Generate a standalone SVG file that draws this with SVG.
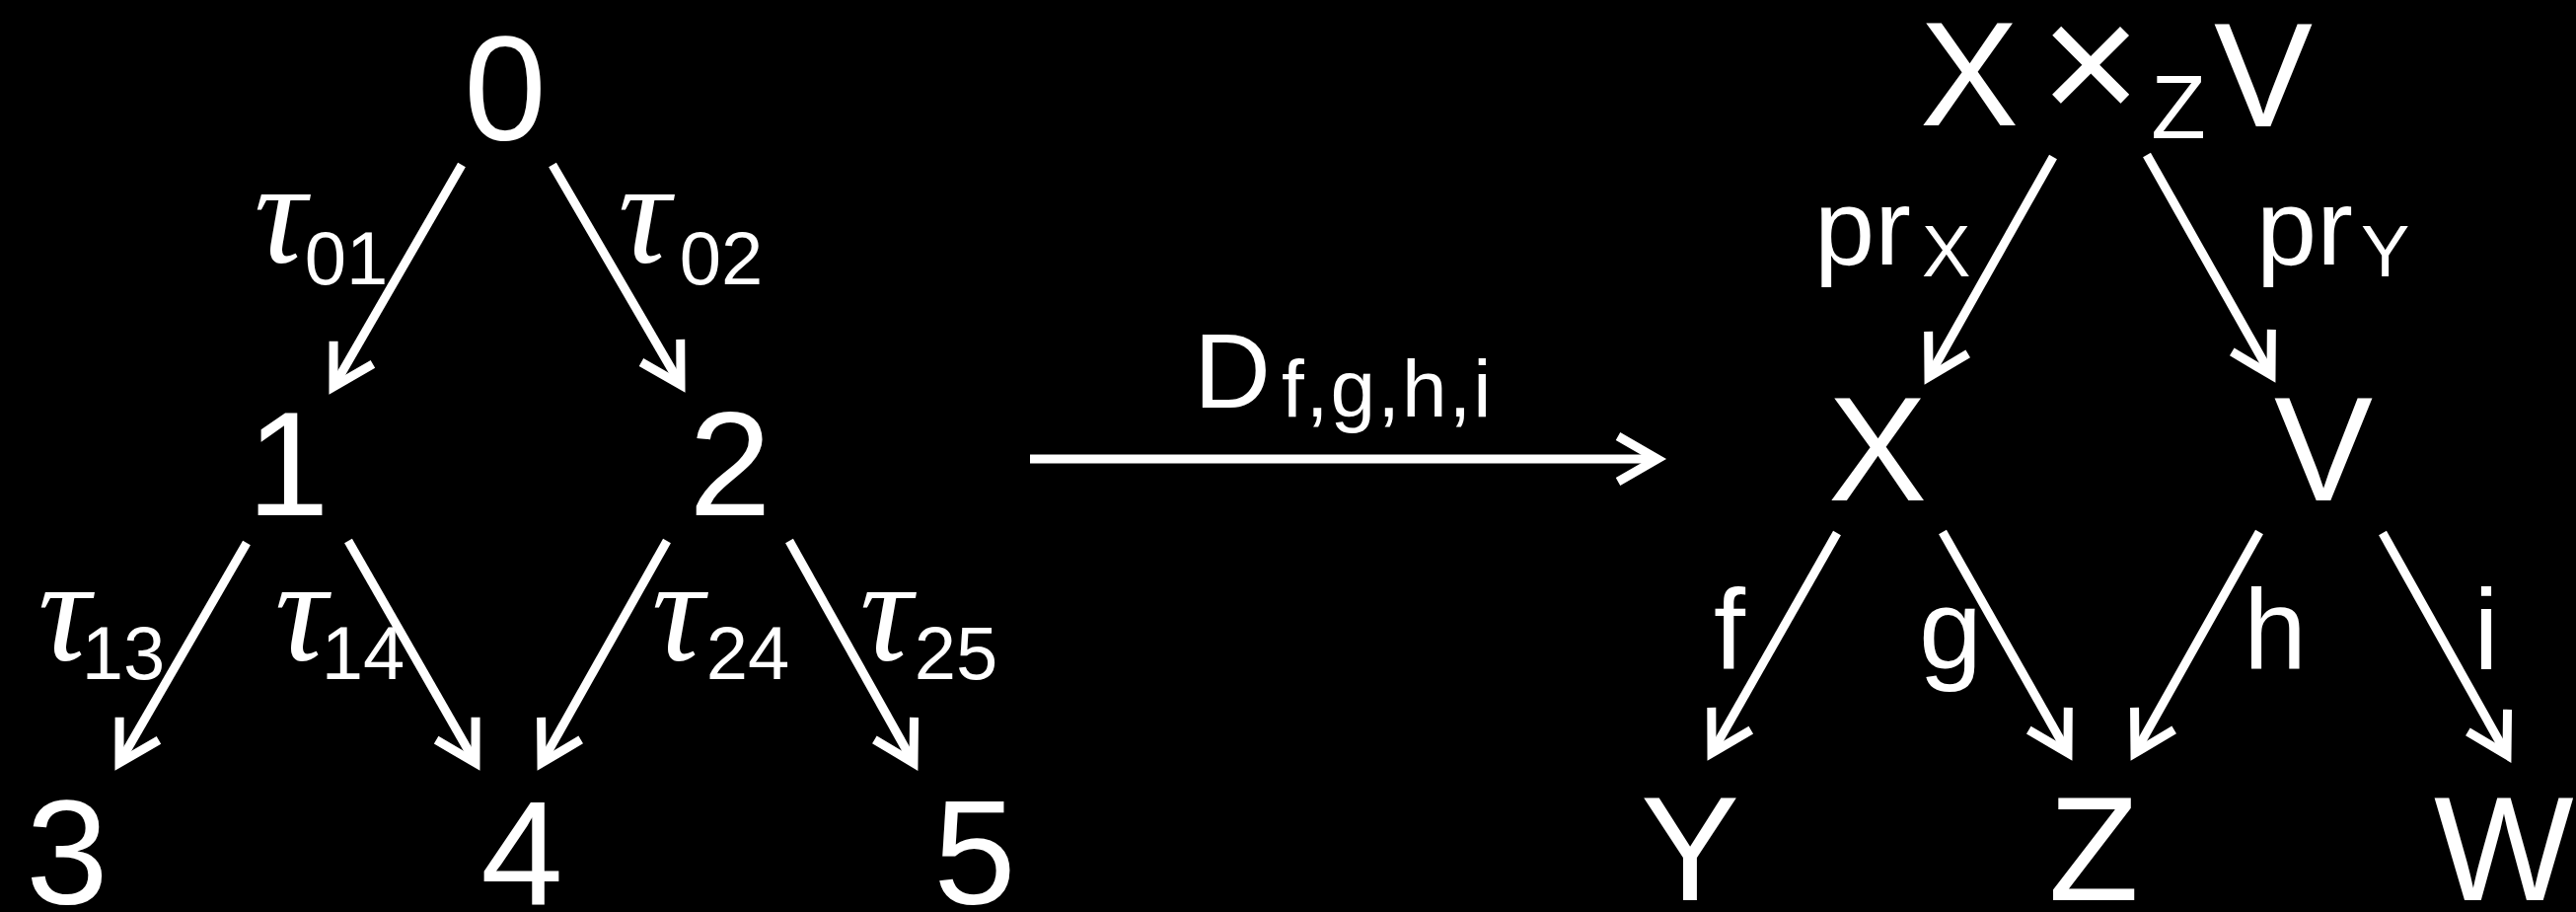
<svg xmlns="http://www.w3.org/2000/svg" width="2611" height="924" viewBox="0 0 2611 924">
<defs>
<style>
.n{font-family:"Liberation Sans",Arial,sans-serif;font-size:150px;fill:#fff;text-anchor:middle}
.t{font-family:"Liberation Serif","Times New Roman",serif;font-style:italic;font-size:148px;fill:#fff;text-anchor:middle}
.s{font-family:"Liberation Sans",Arial,sans-serif;font-size:76px;fill:#fff;text-anchor:middle}
.l{font-family:"Liberation Sans",Arial,sans-serif;font-size:115px;fill:#fff;text-anchor:middle}
.p{font-family:"Liberation Sans",Arial,sans-serif;font-size:110px;fill:#fff}
.q{font-family:"Liberation Sans",Arial,sans-serif;font-size:74px;fill:#fff}
.e{stroke:#fff;stroke-width:9;fill:none}
</style>
<marker id="ah" markerUnits="userSpaceOnUse" viewBox="-50 -30 60 60" markerWidth="60" markerHeight="60" refX="0" refY="0" orient="auto" overflow="visible">
<path d="M-40,-23 L0,0 L-40,23" fill="none" stroke="#fff" stroke-width="9" stroke-linejoin="miter"/>
</marker>
</defs>
<rect width="2611" height="924" fill="#000"/>
<g id="connectors">
<line class="e" x1="468" y1="167" x2="338" y2="392" marker-end="url(#ah)"/>
<line class="e" x1="560" y1="167" x2="690" y2="390" marker-end="url(#ah)"/>
<line class="e" x1="250" y1="550" x2="121" y2="773" marker-end="url(#ah)"/>
<line class="e" x1="353" y1="548" x2="482" y2="773" marker-end="url(#ah)"/>
<line class="e" x1="676" y1="548" x2="549" y2="773" marker-end="url(#ah)"/>
<line class="e" x1="800" y1="548" x2="926" y2="773" marker-end="url(#ah)"/>
<line class="e" x1="1044" y1="465" x2="1680" y2="465" marker-end="url(#ah)"/>
<line class="e" x1="2081" y1="159" x2="1955" y2="382" marker-end="url(#ah)"/>
<line class="e" x1="2176" y1="157" x2="2302" y2="380" marker-end="url(#ah)"/>
<line class="e" x1="1862" y1="540" x2="1735" y2="763" marker-end="url(#ah)"/>
<line class="e" x1="1969" y1="539" x2="2096" y2="763" marker-end="url(#ah)"/>
<line class="e" x1="2290" y1="539" x2="2164" y2="763" marker-end="url(#ah)"/>
<line class="e" x1="2415" y1="540" x2="2541" y2="765" marker-end="url(#ah)"/>
</g>
<g id="edge-labels">
<g id="lbl-t01"><text class="t" x="284" y="266">τ</text><text class="s" x="351" y="288">01</text></g>
<g id="lbl-t02"><text class="t" x="653" y="266">τ</text><text class="s" x="731" y="288">02</text></g>
<g id="lbl-t13"><text class="t" x="65" y="669">τ</text><text class="s" x="125" y="688">13</text></g>
<g id="lbl-t14"><text class="t" x="305" y="669">τ</text><text class="s" x="368" y="688">14</text></g>
<g id="lbl-t24"><text class="t" x="687" y="669">τ</text><text class="s" x="758" y="688">24</text></g>
<g id="lbl-t25"><text class="t" x="898" y="669">τ</text><text class="s" x="969" y="688">25</text></g>
<g id="lbl-D"><text class="n" x="1249" y="413" style="font-size:108px">D</text><text x="1299" y="422" style="font-family:'Liberation Sans',Arial,sans-serif;font-size:82px;fill:#fff;letter-spacing:2px">f,g,h,i</text></g>
<g id="lbl-prX"><text class="p" x="1839" y="268">pr</text><text class="q" x="1948" y="280">X</text></g>
<g id="lbl-prY"><text class="p" x="2287" y="268">pr</text><text class="q" x="2393" y="280">Y</text></g>
<text id="lbl-f" class="l" x="1753" y="677">f</text>
<text id="lbl-g" class="l" x="1977" y="677">g</text>
<text id="lbl-h" class="l" x="2306" y="677">h</text>
<text id="lbl-i" class="l" x="2520" y="677">i</text>
</g>
<g id="node-0"><text class="n" x="512" y="142">0</text></g>
<g id="node-1"><text class="n" x="292" y="522">1</text></g>
<g id="node-2"><text class="n" x="740" y="522">2</text></g>
<g id="node-3"><text class="n" x="68" y="916">3</text></g>
<g id="node-4"><text class="n" x="529" y="916">4</text></g>
<g id="node-5"><text class="n" x="988" y="916">5</text></g>
<g id="node-XxZV"><text class="n" x="1996" y="127">X</text><text class="n" x="2119" y="124" style="font-size:175px">×</text><text class="n" x="2208" y="140" style="font-size:91px">Z</text><text class="n" x="2294" y="128">V</text></g>
<g id="node-X"><text class="n" x="1903" y="507">X</text></g>
<g id="node-V"><text class="n" x="2355" y="507">V</text></g>
<g id="node-Y"><text class="n" x="1713" y="912">Y</text></g>
<g id="node-Z"><text class="n" x="2122" y="912">Z</text></g>
<g id="node-W"><text class="n" x="2467" y="912" style="text-anchor:start">W</text></g>
</svg>
